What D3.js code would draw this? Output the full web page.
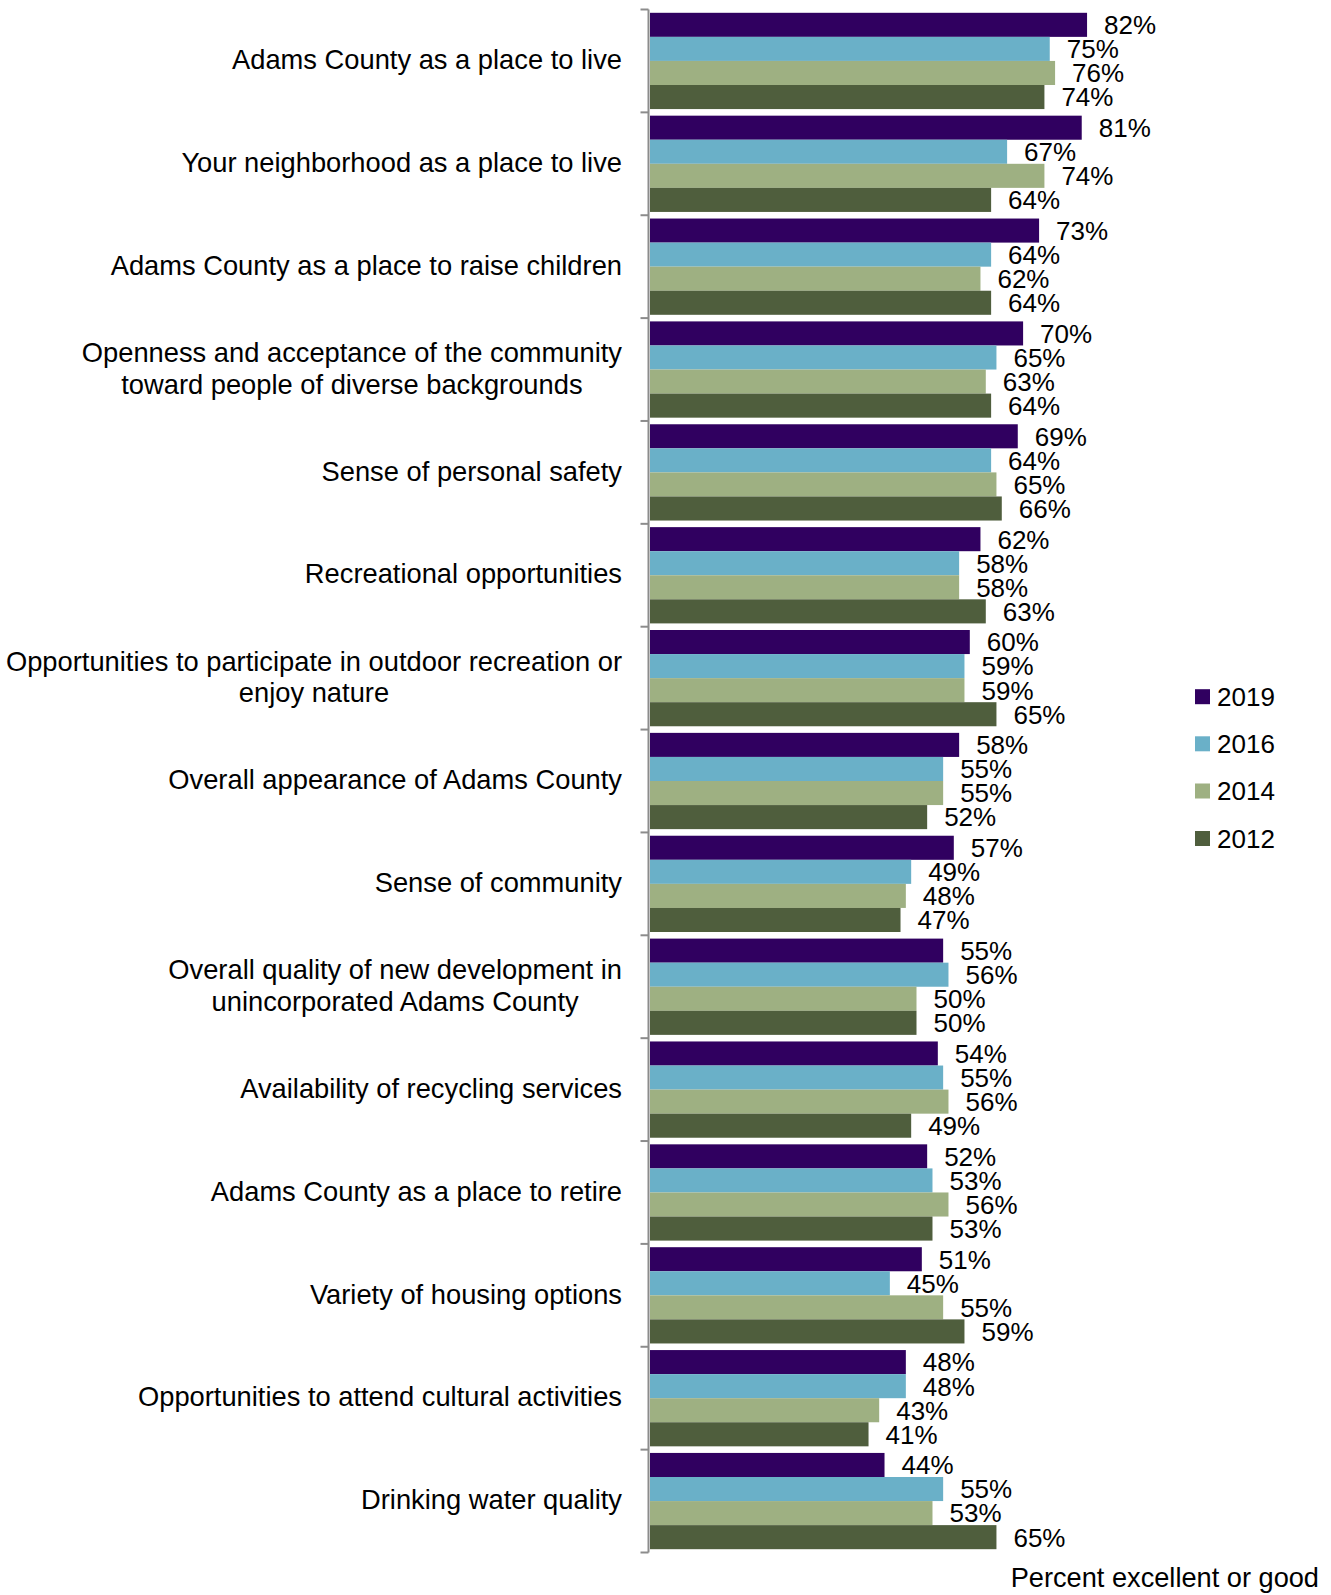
<!DOCTYPE html>
<html>
<head>
<meta charset="utf-8">
<script src="https://cdn.jsdelivr.net/npm/d3@7"></script>
<style>
  html, body { margin: 0; padding: 0; background: #fff; }
  svg { display: block; font-family: "Liberation Sans", Arial, sans-serif; }
</style>
</head>
<body>
<svg id="chart" width="1331" height="1595"></svg>
<script>
// ---- data ----
const categories = [
  ["Adams County as a place to live"],
  ["Your neighborhood as a place to live"],
  ["Adams County as a place to raise children"],
  ["Openness and acceptance of the community", "toward people of diverse backgrounds"],
  ["Sense of personal safety"],
  ["Recreational opportunities"],
  ["Opportunities to participate in outdoor recreation or", "enjoy nature"],
  ["Overall appearance of Adams County"],
  ["Sense of community"],
  ["Overall quality of new development in", "unincorporated Adams County"],
  ["Availability of recycling services"],
  ["Adams County as a place to retire"],
  ["Variety of housing options"],
  ["Opportunities to attend cultural activities"],
  ["Drinking water quality"]
];
const years = ["2019", "2016", "2014", "2012"];
const values2019 = [82, 81, 73, 70, 69, 62, 60, 58, 57, 55, 54, 52, 51, 48, 44];
const values2016 = [75, 67, 64, 65, 64, 58, 59, 55, 49, 56, 55, 53, 45, 48, 55];
const values2014 = [76, 74, 62, 63, 65, 58, 59, 55, 48, 50, 56, 56, 55, 43, 53];
const values2012 = [74, 64, 64, 64, 66, 63, 65, 52, 47, 50, 49, 53, 59, 41, 65];
const xAxisTitle = "Percent excellent or good";

const seriesValues = { "2019": values2019, "2016": values2016, "2014": values2014, "2012": values2012 };
const colors = { "2019": "#300060", "2016": "#6AB0C8", "2014": "#9EB082", "2012": "#4F5E3D" };

// ---- layout ----
const svg = d3.select("#chart");
const axisX = 648.5;
const x = d3.scaleLinear().domain([0, 100]).range([650, 1183]);
const catKeys = categories.map((c, i) => i);
const y0 = d3.scaleBand().domain(catKeys).range([9.5, 1552.5]).padding(0);
const y1 = d3.scaleBand().domain(years).range([3.3, y0.bandwidth() - 3.3]).padding(0);

// bars
const groups = svg.append("g").selectAll("g")
  .data(catKeys).join("g")
  .attr("transform", i => `translate(0,${y0(i)})`);

groups.selectAll("rect")
  .data(i => years.map(yr => ({ yr, v: seriesValues[yr][i] })))
  .join("rect")
  .attr("x", x(0))
  .attr("y", d => y1(d.yr))
  .attr("width", d => x(d.v) - x(0))
  .attr("height", y1.bandwidth())
  .attr("fill", d => colors[d.yr]);

groups.selectAll("text.val")
  .data(i => years.map(yr => ({ yr, v: seriesValues[yr][i] })))
  .join("text")
  .attr("class", "val")
  .attr("x", d => x(d.v) + 17)
  .attr("y", d => y1(d.yr) + y1.bandwidth() / 2)
  .attr("dy", "0.36em")
  .attr("font-size", 26)
  .attr("fill", "#000")
  .text(d => d.v + "%");

// category axis
const axis = svg.append("g").attr("transform", `translate(${axisX},0)`);
axis.append("line")
  .attr("x1", 0).attr("x2", 0)
  .attr("y1", y0.range()[0]).attr("y2", y0.range()[1])
  .attr("stroke", "#8c8c8c").attr("stroke-width", 2);
const tickYs = catKeys.map(i => y0(i)).concat([y0.range()[1]]);
axis.selectAll("line.tick")
  .data(tickYs).join("line")
  .attr("class", "tick")
  .attr("x1", -8).attr("x2", 0)
  .attr("y1", d => d).attr("y2", d => d)
  .attr("stroke", "#8c8c8c").attr("stroke-width", 2);

// category labels: block right-aligned at 622, lines centred within block
const lineH = 31.6;
const labelRight = 622;
svg.append("g").selectAll("text")
  .data(catKeys).join("text")
  .attr("font-size", 27.3)
  .attr("fill", "#000")
  .each(function (i) {
    const lines = categories[i];
    const cy = y0(i) + y0.bandwidth() / 2;
    const start = cy - (lines.length - 1) * lineH / 2;
    const sel = d3.select(this);
    const tspans = sel.selectAll("tspan")
      .data(lines).join("tspan")
      .attr("y", (l, k) => start + k * lineH)
      .attr("dy", "0.3em")
      .text(l => l);
    let maxW = 0;
    tspans.each(function () { maxW = Math.max(maxW, this.getComputedTextLength()); });
    sel.attr("text-anchor", "middle");
    tspans.attr("x", labelRight - maxW / 2);
  });

// legend
const legend = svg.append("g");
const legendY = [696.7, 743.8, 791, 838.5];
years.forEach((yr, k) => {
  legend.append("rect")
    .attr("x", 1195).attr("y", legendY[k] - 7.5)
    .attr("width", 15).attr("height", 15)
    .attr("fill", colors[yr]);
  legend.append("text")
    .attr("x", 1217).attr("y", legendY[k])
    .attr("dy", "0.36em")
    .attr("font-size", 26)
    .attr("fill", "#000")
    .text(yr);
});

// x axis title
svg.append("text")
  .attr("x", 1319).attr("y", 1587)
  .attr("text-anchor", "end")
  .attr("font-size", 27.2)
  .attr("fill", "#000")
  .text(xAxisTitle);
</script>
</body>
</html>
